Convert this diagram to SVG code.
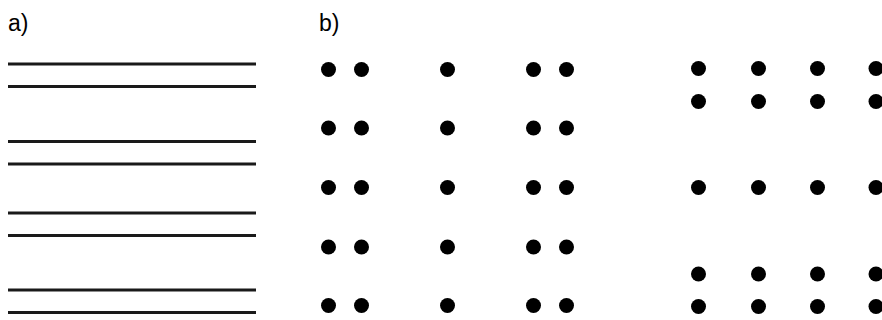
<svg xmlns="http://www.w3.org/2000/svg" width="882" height="320" viewBox="0 0 882 320">
<style>
.lbl{font-family:"Liberation Sans",Arial,sans-serif;font-size:23px;fill:#000}
.ln{stroke:#1a1a1a;stroke-width:3.2}
.d{fill:#000}
</style>
<rect width="882" height="320" fill="#fff"/>
<g id="label-a"><text class="lbl" x="8" y="31">a)</text></g>
<g id="label-b"><text class="lbl" x="319" y="31">b)</text></g>
<g id="lines">
<line class="ln" x1="8" y1="64" x2="256" y2="64"/>
<line class="ln" x1="8" y1="86.5" x2="256" y2="86.5"/>
<line class="ln" x1="8" y1="141.5" x2="256" y2="141.5"/>
<line class="ln" x1="8" y1="164" x2="256" y2="164"/>
<line class="ln" x1="8" y1="213" x2="256" y2="213"/>
<line class="ln" x1="8" y1="235.5" x2="256" y2="235.5"/>
<line class="ln" x1="8" y1="290" x2="256" y2="290"/>
<line class="ln" x1="8" y1="312.5" x2="256" y2="312.5"/>
</g>
<defs><circle id="dot" r="7.5"/></defs>
<g id="dots-b1" class="d">
<use href="#dot" x="328.5" y="69.5"/><use href="#dot" x="361.5" y="69.5"/><use href="#dot" x="447.5" y="69.5"/><use href="#dot" x="533.5" y="69.5"/><use href="#dot" x="566.5" y="69.5"/>
<use href="#dot" x="328.5" y="128"/><use href="#dot" x="361.5" y="128"/><use href="#dot" x="447.5" y="128"/><use href="#dot" x="533.5" y="128"/><use href="#dot" x="566.5" y="128"/>
<use href="#dot" x="328.5" y="187.5"/><use href="#dot" x="361.5" y="187.5"/><use href="#dot" x="447.5" y="187.5"/><use href="#dot" x="533.5" y="187.5"/><use href="#dot" x="566.5" y="187.5"/>
<use href="#dot" x="328.5" y="247"/><use href="#dot" x="361.5" y="247"/><use href="#dot" x="447.5" y="247"/><use href="#dot" x="533.5" y="247"/><use href="#dot" x="566.5" y="247"/>
<use href="#dot" x="328.5" y="305.5"/><use href="#dot" x="361.5" y="305.5"/><use href="#dot" x="447.5" y="305.5"/><use href="#dot" x="533.5" y="305.5"/><use href="#dot" x="566.5" y="305.5"/>
</g>
<g id="dots-b2" class="d">
<use href="#dot" x="698.5" y="68.5"/><use href="#dot" x="758.5" y="68.5"/><use href="#dot" x="817.5" y="68.5"/><use href="#dot" x="876" y="68.5"/>
<use href="#dot" x="698.5" y="101.5"/><use href="#dot" x="758.5" y="101.5"/><use href="#dot" x="817.5" y="101.5"/><use href="#dot" x="876" y="101.5"/>
<use href="#dot" x="698.5" y="187.5"/><use href="#dot" x="758.5" y="187.5"/><use href="#dot" x="817.5" y="187.5"/><use href="#dot" x="876" y="187.5"/>
<use href="#dot" x="698.5" y="274"/><use href="#dot" x="758.5" y="274"/><use href="#dot" x="817.5" y="274"/><use href="#dot" x="876" y="274"/>
<use href="#dot" x="698.5" y="306.5"/><use href="#dot" x="758.5" y="306.5"/><use href="#dot" x="817.5" y="306.5"/><use href="#dot" x="876" y="306.5"/>
</g>
</svg>
